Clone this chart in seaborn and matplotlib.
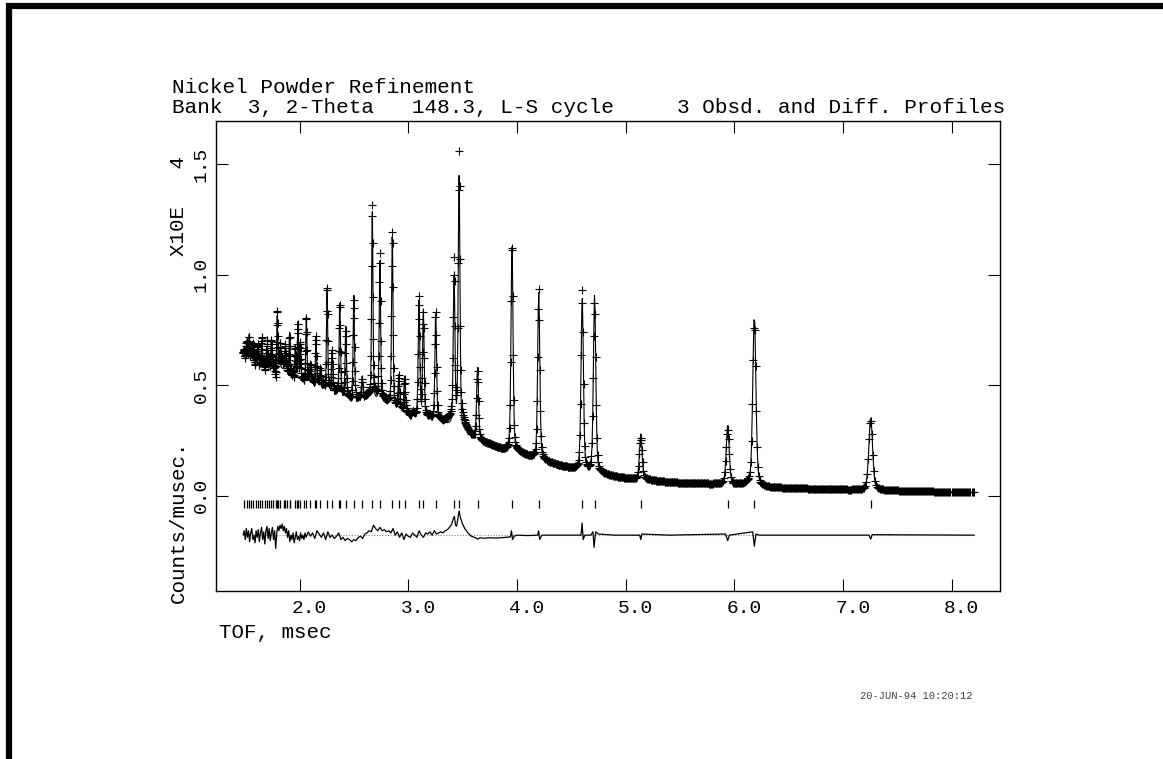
import numpy as np
import pandas as pd
import matplotlib
matplotlib.use("Agg")
import matplotlib.pyplot as plt
from matplotlib.transforms import ScaledTranslation
from matplotlib.lines import Line2D
import seaborn as sns

# ---------------- data ----------------
tof_start = 1.48
tof_end = 8.21
tof_step_rel = 0.0012

# background (lower envelope of the observed profile), counts/musec x1e4
bg_tof = [1.48, 1.70, 1.96, 2.13, 2.40, 2.62, 2.85, 3.02, 3.20, 3.36, 3.55, 3.70,
          3.85, 4.00, 4.20, 4.40, 4.60, 4.80, 5.00, 5.30, 5.60, 6.00, 6.50, 7.00,
          7.50, 8.00, 8.21]
bg_val = [0.645, 0.60, 0.55, 0.51, 0.47, 0.44, 0.40, 0.37, 0.345, 0.32, 0.285, 0.255,
          0.225, 0.20, 0.165, 0.135, 0.113, 0.094, 0.079, 0.064, 0.054, 0.044, 0.034,
          0.027, 0.021, 0.016, 0.014]

# reflection positions (msec) and calculated peak tops
peak_tof = [1.515, 1.536, 1.575, 1.615, 1.653, 1.700, 1.739, 1.794, 1.820, 1.868,
            1.908, 1.960, 1.985, 2.006, 2.062, 2.099, 2.151, 2.191, 2.253, 2.299,
            2.370, 2.425, 2.499, 2.576, 2.669, 2.739, 2.853, 2.914, 2.967, 3.099,
            3.139, 3.253, 3.422, 3.468, 3.638, 3.955, 4.201, 4.601, 4.715, 5.140,
            5.940, 6.185, 7.256]
peak_top = [0.69, 0.73, 0.70, 0.68, 0.70, 0.67, 0.70, 0.82, 0.65, 0.67,
            0.74, 0.68, 0.79, 0.70, 0.82, 0.60, 0.72, 0.58, 0.95, 0.66,
            0.88, 0.77, 0.91, 0.54, 1.30, 1.07, 1.18, 0.55, 0.54, 0.89,
            0.84, 0.83, 1.00, 1.45, 0.58, 1.15, 0.92, 0.90, 0.91, 0.28,
            0.32, 0.82, 0.36]

# extra tick marks in the crowded low-TOF region
extra_refl = [1.49, 1.555, 1.595, 1.64, 1.68, 1.72, 1.755, 1.78, 1.80, 1.86, 1.884,
              1.914, 1.98, 2.043, 2.145, 2.36]

# difference curve (obs - calc)
diff_tof = [1.48, 1.49, 1.50, 1.51, 1.52, 1.53, 1.54, 1.55, 1.56, 1.57, 1.58, 1.59,
            1.60, 1.61, 1.62, 1.63, 1.64, 1.65, 1.66, 1.67, 1.68, 1.69, 1.70, 1.71,
            1.72, 1.73, 1.74, 1.75, 1.76, 1.77, 1.78, 1.79, 1.80, 1.81, 1.82, 1.83,
            1.84, 1.85, 1.86, 1.87, 1.88, 1.89, 1.90, 1.91, 1.92, 1.93, 1.94, 1.95,
            1.96, 1.97, 1.98, 1.99, 2.00, 2.01, 2.02, 2.03, 2.04, 2.05, 2.06, 2.08,
            2.10, 2.12, 2.14, 2.16, 2.18, 2.20, 2.22, 2.24, 2.26, 2.28, 2.30, 2.32,
            2.34, 2.36, 2.38, 2.40, 2.42, 2.44, 2.46, 2.48, 2.50, 2.52, 2.54, 2.56,
            2.58, 2.60, 2.62, 2.64, 2.66, 2.68, 2.70, 2.72, 2.74, 2.76, 2.78, 2.80,
            2.82, 2.84, 2.86, 2.88, 2.90, 2.92, 2.94, 2.96, 2.98, 3.00, 3.02, 3.04,
            3.06, 3.08, 3.10, 3.12, 3.14, 3.16, 3.18, 3.20, 3.22, 3.24, 3.26, 3.28,
            3.30, 3.32, 3.34, 3.36, 3.38, 3.40, 3.415, 3.425, 3.435, 3.445, 3.455,
            3.468, 3.48, 3.50, 3.52, 3.55, 3.58, 3.62, 3.64, 3.66, 3.70, 3.75, 3.80,
            3.85, 3.90, 3.94, 3.95, 3.96, 3.975, 4.00, 4.10, 4.19, 4.20, 4.21, 4.23,
            4.40, 4.59, 4.60, 4.61, 4.625, 4.68, 4.70, 4.71, 4.725, 4.75, 4.90, 5.13,
            5.14, 5.15, 5.40, 5.92, 5.94, 5.955, 6.17, 6.185, 6.20, 6.23, 7.24, 7.256,
            7.27, 8.21]
diff_val = [0.00, 0.02, -0.02, 0.03, -0.01, 0.02, -0.03, 0.01, 0.03, -0.02, 0.00, -0.035,
            0.02, -0.01, 0.025, -0.03, 0.01, 0.035, -0.02, 0.015, -0.04, 0.02, 0.04, -0.015,
            0.03, -0.025, 0.01, 0.035, -0.02, 0.02, -0.06, 0.01, 0.04, 0.02, 0.045, 0.03,
            0.05, 0.02, 0.04, 0.01, 0.03, -0.01, 0.02, -0.03, 0.00, -0.02, 0.01, -0.035,
            -0.01, 0.015, -0.02, -0.005, -0.025, 0.01, -0.015, 0.00, -0.02, 0.01, -0.01, 0.015,
            -0.005, 0.01, -0.015, 0.02, 0.005, -0.01, 0.01, -0.02, 0.015, -0.01, 0.00, -0.015,
            -0.005, 0.01, -0.02, -0.01, -0.025, -0.015, -0.02, -0.03, -0.02, -0.025, -0.01, -0.005,
            -0.015, 0.005, 0.01, 0.02, 0.015, 0.045, 0.03, 0.02, 0.035, 0.02, 0.025, 0.015,
            0.02, 0.01, 0.03, 0.00, 0.015, -0.01, 0.01, -0.02, 0.005, -0.005, -0.01, 0.01,
            0.00, -0.01, 0.02, 0.00, -0.01, 0.01, 0.005, 0.015, 0.00, 0.02, 0.005, 0.01,
            0.015, 0.01, 0.02, 0.025, 0.035, 0.05, 0.075, 0.085, 0.045, 0.04, 0.07,
            0.11, 0.08, 0.05, 0.03, 0.01, -0.005, -0.012, -0.018, -0.012, -0.014, -0.012, -0.013,
            -0.012, -0.01, -0.008, 0.02, -0.02, -0.005, 0.00, -0.002, 0.00, 0.02, -0.02, 0.00,
            0.00, 0.00, 0.055, -0.02, 0.00, 0.00, 0.015, -0.055, 0.015, 0.005, 0.00, 0.00,
            -0.02, 0.005, 0.00, 0.005, -0.025, 0.00, 0.015, -0.05, 0.005, 0.00, 0.00, -0.018,
            0.002, 0.00]

diff_offset = -0.179
refl_level = -0.036

x_ticks = [2.0, 3.0, 4.0, 5.0, 6.0, 7.0, 8.0]
x_tick_labels = ["2.0", "3.0", "4.0", "5.0", "6.0", "7.0", "8.0"]
y_ticks = [0.0, 0.5, 1.0, 1.5]
y_tick_labels = ["0.0", "0.5", "1.0", "1.5"]

title1 = "Nickel Powder Refinement"
title2 = "Bank  3, 2-Theta   148.3, L-S cycle     3 Obsd. and Diff. Profiles"
xlabel = "TOF, msec"
ylabel1 = "Counts/musec."
ylabel2 = "X10E   4"
stamp = "20-JUN-94 10:20:12"

# ---------------- profile model ----------------
fwhm_rel = 0.0055
eta = 0.35

n_pts = int(np.log(tof_end / tof_start) / np.log(1 + tof_step_rel)) + 1
tof = tof_start * (1 + tof_step_rel) ** np.arange(n_pts)


def pvoigt(t, pos):
    w = fwhm_rel * pos
    x = (t - pos) / w
    return eta / (1 + 4 * x ** 2) + (1 - eta) * np.exp(-4 * np.log(2) * x ** 2)


pk = np.array(peak_tof)
M = np.array([[pvoigt(pi, pj) for pj in pk] for pi in pk])
rhs = np.array(peak_top) - np.interp(pk, bg_tof, bg_val)
amp = np.clip(np.linalg.solve(M, rhs), 0.0, None)

calc = np.interp(tof, bg_tof, bg_val)
for p, a in zip(pk, amp):
    calc = calc + a * pvoigt(tof, p)
obs = calc + np.interp(tof, diff_tof, diff_val)

prof = pd.DataFrame({"tof": tof, "calc": calc, "obs": obs})
diff_df = pd.DataFrame({"tof": diff_tof, "d": np.array(diff_val) + diff_offset})
refl = pd.DataFrame({"tof": sorted(peak_tof + extra_refl)})
refl["y"] = refl_level
zero_df = pd.DataFrame({"tof": [tof_start, tof_end], "y": [diff_offset, diff_offset]})

# ---------------- figure ----------------
sns.set_theme(style="white")
plt.rcParams["font.family"] = ["Liberation Mono", "DejaVu Sans Mono"]
plt.rcParams["axes.edgecolor"] = "black"
plt.rcParams["axes.linewidth"] = 1.0

W, H = 1163, 759
fig = plt.figure(figsize=(W / 100, H / 100), dpi=100)
fig.patch.set_facecolor("white")
L, R, T, B = 215.7, 1000.0, 120.7, 591.0
ax = fig.add_axes([L / W, 1 - B / H, (R - L) / W, (B - T) / H])

sns.lineplot(data=zero_df, x="tof", y="y", ax=ax, color="#888888", lw=0.8,
             linestyle=(0, (1, 1.5)), estimator=None, sort=False)
sns.lineplot(data=prof, x="tof", y="calc", ax=ax, color="black", lw=0.8,
             estimator=None, sort=False)
sns.scatterplot(data=prof, x="tof", y="obs", ax=ax, marker="+", s=32,
                color="black", linewidth=0.8)
sns.lineplot(data=diff_df, x="tof", y="d", ax=ax, color="black", lw=0.9,
             estimator=None, sort=False)
sns.scatterplot(data=refl, x="tof", y="y", ax=ax, marker="|", s=26,
                color="black", linewidth=0.9)

ax.set_xlim(1.228, 8.446)
ax.set_ylim(-0.432, 1.698)
ax.set_xlabel("")
ax.set_ylabel("")
for s in ax.spines.values():
    s.set_visible(True)
    s.set_color("black")
    s.set_linewidth(1.0)

ax.set_xticks(x_ticks)
ax.set_xticklabels(x_tick_labels)
ax.set_yticks(y_ticks)
ax.set_yticklabels(y_tick_labels, rotation=90, va="center")
ax.tick_params(axis="both", which="major", direction="in", length=8.8, width=0.8,
               top=True, right=True, bottom=True, left=True, colors="black",
               labelsize=14)
ax.tick_params(axis="x", pad=6.5)
ax.tick_params(axis="y", pad=4.3)
off = ScaledTranslation(10 / 100, 0, fig.dpi_scale_trans)
for lab in ax.get_xticklabels():
    lab.set_transform(lab.get_transform() + off)


def fx(px):
    return px / W


def fy(py):
    return 1 - py / H


fig.text(fx(172), fy(93), title1, fontsize=15.1, ha="left", va="baseline", color="black")
fig.text(fx(172), fy(113.3), title2, fontsize=15.1, ha="left", va="baseline", color="black")
fig.text(fx(219), fy(632), xlabel, fontsize=15, ha="left", va="center", color="black")
fig.text(fx(178), fy(603), ylabel1, fontsize=15, rotation=90, rotation_mode="anchor",
         ha="left", va="center", color="black")
fig.text(fx(178), fy(256), ylabel2, fontsize=15, rotation=90, rotation_mode="anchor",
         ha="left", va="center", color="black")
fig.text(fx(916), fy(696), stamp, fontsize=7.5, ha="center", va="center", color="#444444")

# page border (thick black top and left edge)
fig.add_artist(Line2D([fx(6), fx(1163)], [fy(5.5), fy(5.5)], transform=fig.transFigure,
                      color="black", lw=4.5, solid_capstyle="butt"))
fig.add_artist(Line2D([fx(8.5), fx(8.5)], [fy(3.3), fy(759)], transform=fig.transFigure,
                      color="black", lw=4.5, solid_capstyle="butt"))

fig.savefig("out.png", dpi=100, facecolor="white")
